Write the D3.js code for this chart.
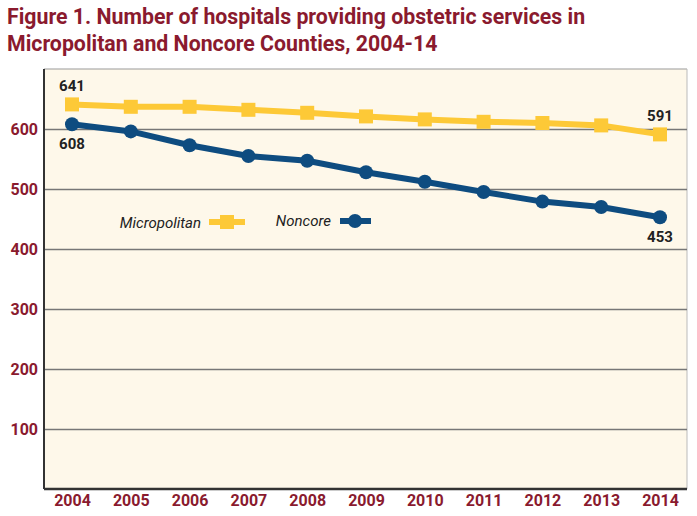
<!DOCTYPE html><html><head><meta charset="utf-8"><script src="https://cdn.jsdelivr.net/npm/d3@7"></script>
<style>body{margin:0;background:#fff}text{font-family:Roboto,"Open Sans",sans-serif}</style></head><body>
<svg id="c" width="697" height="516"></svg>
<script>
const years=[2004,2005,2006,2007,2008,2009,2010,2011,2012,2013,2014];
const micropolitan=[641,637,637,632,627,621,616,612,610,606,591];
const noncore=[608,596,573,555,547,528,512,495,479,470,453];
const yTicks=[100,200,300,400,500,600];
const svg=d3.select("#c");
const red="#8a1a2e";
const L=44,R=687,T=69,B=489;
const x=d3.scalePoint().domain(years).range([72,660]);
const y=d3.scaleLinear().domain([0,700]).range([B,T]);
svg.append("text").attr("x",7).attr("y",24).attr("fill",red).attr("font-size",21.3).attr("font-weight","bold").text("Figure 1. Number of hospitals providing obstetric services in");
svg.append("text").attr("x",7).attr("y",51).attr("fill",red).attr("font-size",21.3).attr("font-weight","bold").text("Micropolitan and Noncore Counties, 2004-14");
svg.append("rect").attr("x",L).attr("y",T).attr("width",R-L).attr("height",B-T).attr("fill","#fef8ea");
svg.append("line").attr("x1",L).attr("x2",R).attr("y1",T).attr("y2",T).attr("stroke","#999").attr("stroke-width",1);
svg.append("line").attr("x1",R).attr("x2",R).attr("y1",T).attr("y2",B).attr("stroke","#bbb").attr("stroke-width",1);
const ya=svg.append("g").attr("transform",`translate(${L},0)`).call(d3.axisLeft(y).tickValues(yTicks).tickSize(-(R-L)).tickPadding(6));
ya.select(".domain").remove();
ya.selectAll(".tick line").attr("stroke","#777").attr("stroke-width",1.3);
ya.selectAll(".tick text").attr("fill",red).attr("font-size",16).attr("font-weight","bold");
svg.append("line").attr("x1",L).attr("x2",L).attr("y1",T).attr("y2",B).attr("stroke","#333").attr("stroke-width",2);
const xa=svg.append("g").attr("transform",`translate(0,${B})`).call(d3.axisBottom(x).tickSize(0).tickPadding(6));
xa.select(".domain").attr("d",`M${L},0H${R}`).attr("stroke","#333").attr("stroke-width",2.5);
xa.selectAll(".tick text").attr("fill",red).attr("font-size",16).attr("font-weight","bold");
const line=d3.line().x((d,i)=>x(years[i])).y(d=>y(d));
svg.append("path").datum(micropolitan).attr("d",line).attr("fill","none").attr("stroke","#fdc937").attr("stroke-width",6);
svg.selectAll(".sq").data(micropolitan).join("rect").attr("x",(d,i)=>x(years[i])-7).attr("y",d=>y(d)-7).attr("width",14).attr("height",14).attr("fill","#fdc937");
svg.append("path").datum(noncore).attr("d",line).attr("fill","none").attr("stroke","#0e4c80").attr("stroke-width",6);
svg.selectAll(".dt").data(noncore).join("circle").attr("cx",(d,i)=>x(years[i])).attr("cy",d=>y(d)).attr("r",7).attr("fill","#0e4c80");
const lab=(t,xx,yy)=>svg.append("text").attr("x",xx).attr("y",yy).attr("text-anchor","middle").attr("font-size",15).attr("font-weight","bold").attr("fill","#222").text(t);
lab(micropolitan[0],x(2004),y(micropolitan[0])-13);
lab(noncore[0],x(2004),y(noncore[0])+25);
lab(micropolitan[10],x(2014),y(micropolitan[10])-13);
lab(noncore[10],x(2014),y(noncore[10])+25);
svg.append("text").attr("x",201).attr("y",228).attr("text-anchor","end").attr("font-size",15).attr("font-style","italic").attr("fill","#222").text("Micropolitan");
svg.append("line").attr("x1",209).attr("x2",245).attr("y1",222).attr("y2",222).attr("stroke","#fdc937").attr("stroke-width",6);
svg.append("rect").attr("x",220).attr("y",215).attr("width",14).attr("height",14).attr("fill","#fdc937");
svg.append("text").attr("x",331).attr("y",226).attr("text-anchor","end").attr("font-size",15).attr("font-style","italic").attr("fill","#222").text("Noncore");
svg.append("line").attr("x1",340).attr("x2",371).attr("y1",221).attr("y2",221).attr("stroke","#0e4c80").attr("stroke-width",6);
svg.append("circle").attr("cx",355).attr("cy",221).attr("r",7).attr("fill","#0e4c80");
</script></body></html>
